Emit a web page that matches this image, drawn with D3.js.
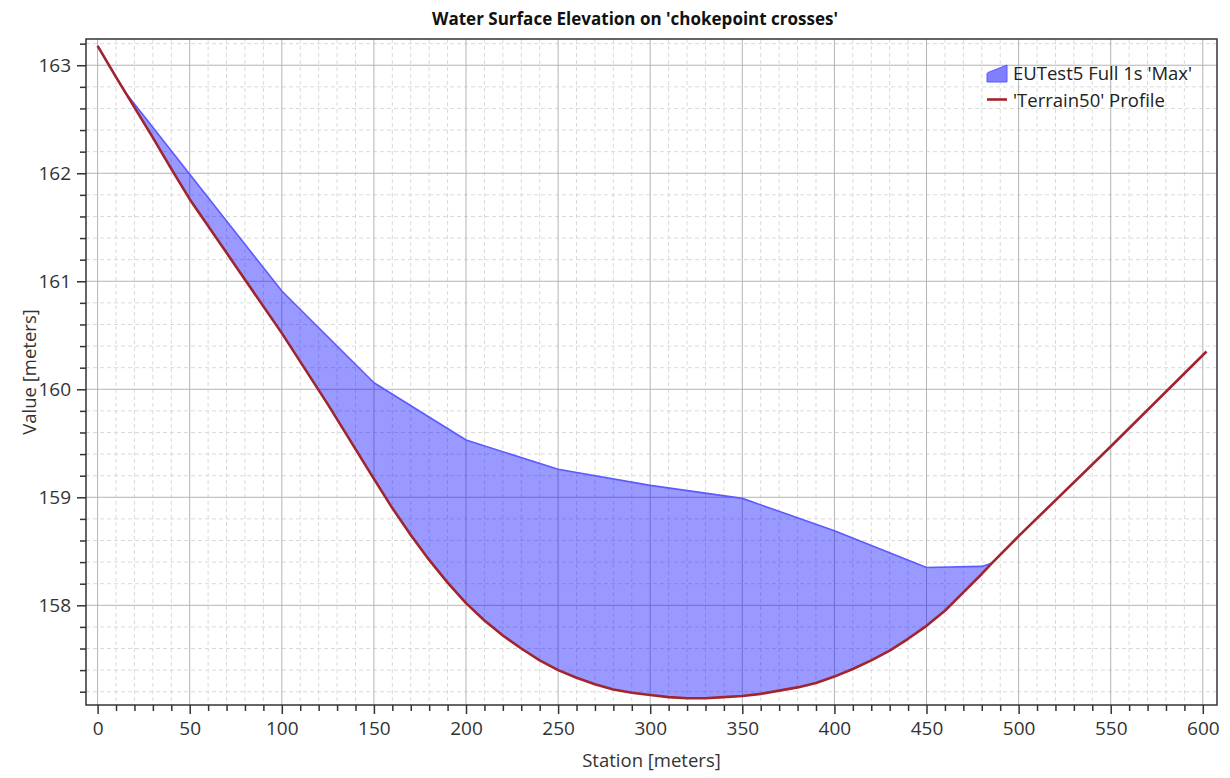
<!DOCTYPE html>
<html>
<head>
<meta charset="utf-8">
<script src="https://cdn.jsdelivr.net/npm/d3@7"></script>
<style>
  html, body { margin: 0; padding: 0; background: #fff; }
  svg { display: block; font-family: "Open Sans", "Noto Sans", sans-serif; }
</style>
</head>
<body>
<svg id="chart" width="1230" height="778"></svg>
<script>
// Ground profile along the cross section (station in m, elevation in m)
const terrainStation = [0, 10, 20, 30, 40, 50, 75, 100, 125, 150, 160, 170, 180, 190, 200, 210, 220, 230, 240, 250, 260, 270, 280, 290, 300, 310, 320, 330, 340, 350, 360, 370, 380, 390, 400, 410, 420, 430, 440, 450, 460, 470, 480, 485.5, 500, 550, 602];
const terrainElev    = [163.18, 162.89, 162.61, 162.33, 162.04, 161.76, 161.14, 160.52, 159.86, 159.17, 158.90, 158.65, 158.42, 158.21, 158.02, 157.86, 157.72, 157.60, 157.49, 157.40, 157.33, 157.27, 157.22, 157.19, 157.17, 157.15, 157.14, 157.14, 157.15, 157.16, 157.18, 157.21, 157.24, 157.28, 157.34, 157.41, 157.49, 157.58, 157.69, 157.81, 157.95, 158.12, 158.29, 158.39, 158.64, 159.47, 160.35];

// Maximum water surface elevation along the same section
const wseStation = [0, 15, 50, 100, 150, 200, 250, 300, 350, 400, 450, 480, 485.5];
const wseElev    = [163.18, 162.75, 161.99, 160.91, 160.06, 159.53, 159.26, 159.11, 158.99, 158.69, 158.35, 158.36, 158.39];

const xTicks = [0, 50, 100, 150, 200, 250, 300, 350, 400, 450, 500, 550, 600];
const yTicks = [158, 159, 160, 161, 162, 163];

const titleText = "Water Surface Elevation on 'chokepoint crosses'";
const xTitle = "Station [meters]";
const yTitle = "Value [meters]";
const seriesNames = ["EUTest5 Full 1s 'Max'", "'Terrain50' Profile"];

const svg = d3.select("#chart");
const plotL = 86, plotR = 1217, plotT = 39, plotB = 705;

const x = d3.scaleLinear().domain([-6.3, 607.7]).range([plotL, plotR]);
const y = d3.scaleLinear().domain([157.077, 163.243]).range([plotB, plotT]);

const xMinor = d3.range(0, 610, 10).filter(v => v % 50 !== 0);
const yMinor = d3.range(157.2, 163.21, 0.2).map(v => +v.toFixed(1)).filter(v => Math.abs(v - Math.round(v)) > 1e-6);

const grid = svg.append("g");
// minor dashed grid
grid.selectAll(".gxm").data(xMinor).join("line")
  .attr("x1", d => x(d)).attr("x2", d => x(d)).attr("y1", plotT).attr("y2", plotB)
  .attr("stroke", "#dadada").attr("stroke-width", 1).attr("stroke-dasharray", "4,3");
grid.selectAll(".gym").data(yMinor).join("line")
  .attr("x1", plotL).attr("x2", plotR).attr("y1", d => y(d)).attr("y2", d => y(d))
  .attr("stroke", "#dadada").attr("stroke-width", 1).attr("stroke-dasharray", "4,3");
// major solid grid
grid.selectAll(".gx").data(xTicks).join("line")
  .attr("x1", d => x(d)).attr("x2", d => x(d)).attr("y1", plotT).attr("y2", plotB)
  .attr("stroke", "#b4b4b4").attr("stroke-width", 1);
grid.selectAll(".gy").data(yTicks).join("line")
  .attr("x1", plotL).attr("x2", plotR).attr("y1", d => y(d)).attr("y2", d => y(d))
  .attr("stroke", "#b4b4b4").attr("stroke-width", 1);

// data
const terrain = terrainStation.map((s, i) => [s, terrainElev[i]]);
const wse = wseStation.map((s, i) => [s, wseElev[i]]);
const wetEnd = wseStation[wseStation.length - 1];
const floor = terrain.filter(d => d[0] <= wetEnd).reverse();
const line = d3.line().x(d => x(d[0])).y(d => y(d[1]));

svg.append("path")
  .attr("d", line(wse.concat(floor)) + "Z")
  .attr("fill", "rgba(0,0,255,0.4)").attr("stroke", "none");
svg.append("path")
  .attr("d", line(wse))
  .attr("fill", "none").attr("stroke", "#5a5aff").attr("stroke-width", 1.6)
  .attr("stroke-linejoin", "round");
svg.append("path")
  .attr("d", line(terrain))
  .attr("fill", "none").attr("stroke", "#a0252d").attr("stroke-width", 2.6)
  .attr("stroke-linejoin", "round");

// axes
const xAxis = d3.axisBottom(x).tickValues(xTicks).tickSize(9).tickPadding(8).tickFormat(d3.format("d"));
const yAxis = d3.axisLeft(y).tickValues(yTicks).tickSize(9).tickPadding(6).tickFormat(d3.format("d"));
const xMinorAxis = d3.axisBottom(x).tickValues(xMinor).tickSize(6).tickFormat("");
const yMinorAxis = d3.axisLeft(y).tickValues(yMinor).tickSize(6).tickFormat("");

function styleAxis(g) {
  g.select(".domain").remove();
  g.selectAll(".tick line").attr("stroke", "#333").attr("stroke-width", 1.5);
  g.selectAll(".tick text").attr("fill", "#333").attr("font-size", 19)
    .attr("font-family", "'Open Sans', 'Noto Sans', sans-serif");
}
svg.append("g").attr("transform", `translate(0,${plotB})`).call(xMinorAxis).call(styleAxis);
svg.append("g").attr("transform", `translate(${plotL},0)`).call(yMinorAxis).call(styleAxis);
svg.append("g").attr("transform", `translate(0,${plotB})`).call(xAxis).call(styleAxis);
svg.append("g").attr("transform", `translate(${plotL},0)`).call(yAxis).call(styleAxis);

// frame
svg.append("rect").attr("x", plotL).attr("y", plotT).attr("width", plotR - plotL).attr("height", plotB - plotT)
  .attr("fill", "none").attr("stroke", "#333").attr("stroke-width", 1.5);

// titles
svg.append("text").attr("x", 635).attr("y", 25).attr("text-anchor", "middle")
  .attr("font-size", 17).attr("font-weight", "bold").attr("fill", "#111").text(titleText);
svg.append("text").attr("x", (plotL + plotR) / 2).attr("y", 767).attr("text-anchor", "middle")
  .attr("font-size", 18.5).attr("fill", "#333").text(xTitle);
svg.append("text").attr("transform", `translate(36,${(plotT + plotB) / 2}) rotate(-90)`)
  .attr("text-anchor", "middle").attr("font-size", 18.5).attr("fill", "#333").text(yTitle);

// legend
const lg = svg.append("g");
lg.append("path").attr("d", "M987,82 L987,74 Q987,73 988,72.5 L1007,65 L1007,82 Z")
  .attr("fill", "#7f7fff").attr("stroke", "#5a5aff").attr("stroke-width", 1);
lg.append("line").attr("x1", 987).attr("x2", 1007).attr("y1", 99.5).attr("y2", 99.5)
  .attr("stroke", "#a0252d").attr("stroke-width", 2.6);
lg.selectAll("text.leg").data(seriesNames).join("text")
  .attr("x", 1013).attr("y", (d, i) => 80 + i * 27)
  .attr("font-size", 18.5).attr("fill", "#222").text(d => d);
</script>
</body>
</html>
